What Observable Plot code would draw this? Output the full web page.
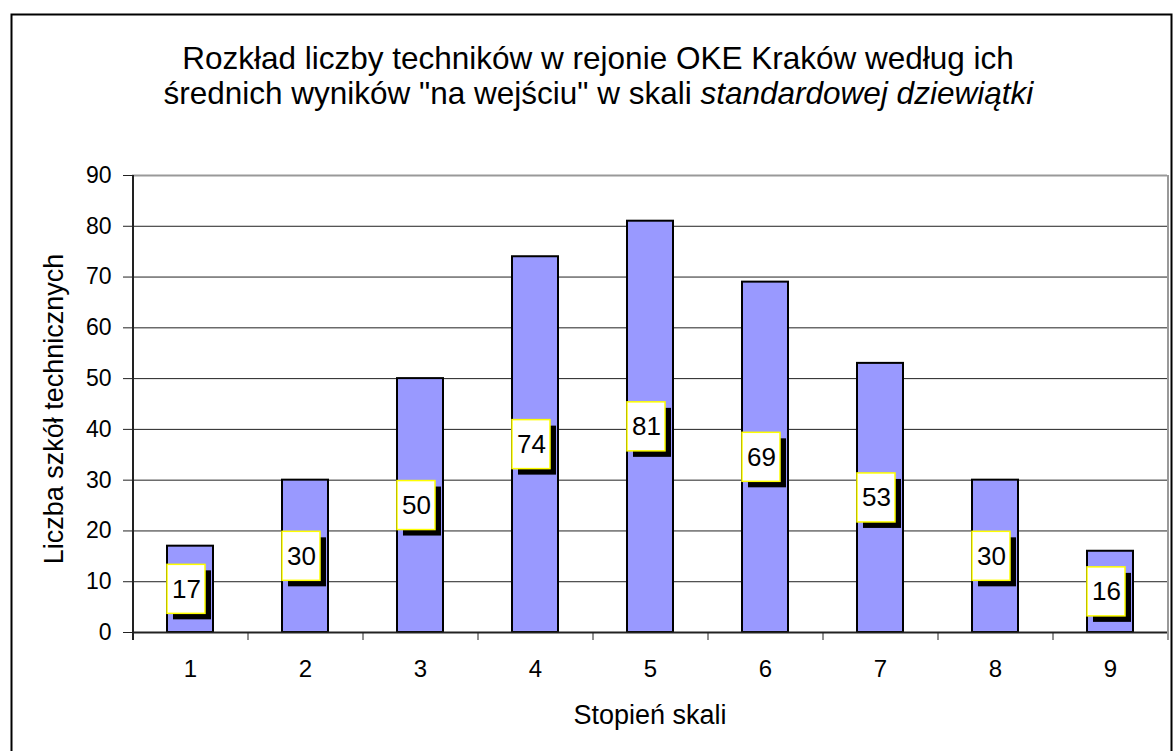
<!DOCTYPE html>
<html>
<head>
<meta charset="utf-8">
<script src="https://cdn.jsdelivr.net/npm/d3@7"></script>
<script src="https://cdn.jsdelivr.net/npm/@observablehq/plot@0.6"></script>
<style>
  html, body { margin: 0; padding: 0; background: #fff; }
  svg { display: block; }
</style>
</head>
<body>
<div id="chart"></div>
<script>
// ---- data ----
const categories = ["1", "2", "3", "4", "5", "6", "7", "8", "9"];
const values = [17, 30, 50, 74, 81, 69, 53, 30, 16];
const yTicks = [0, 10, 20, 30, 40, 50, 60, 70, 80, 90];
const titleLine1 = "Rozkład liczby techników w rejonie OKE Kraków według ich";
const titleLine2Normal = "średnich wyników \"na wejściu\" w skali";
const titleLine2Italic = "standardowej dziewiątki";
const xLabel = "Stopień skali";
const yLabel = "Liczba szkół technicznych";

const data = categories.map((c, i) => ({cat: c, value: values[i]}));

const W = 1174, H = 751;
const mL = 132, mR = 7, mT = 175, mB = 119;
const plotW = W - mL - mR;
const plotH = H - mT - mB;
const step = plotW / categories.length;
const font = '"Liberation Sans", Arial, Helvetica, sans-serif';

const chart = Plot.plot({
  width: W,
  height: H,
  marginLeft: mL,
  marginRight: mR,
  marginTop: mT,
  marginBottom: mB,
  style: {fontFamily: font, fontSize: "23px", background: "#fff", color: "#000", overflow: "visible"},
  x: {domain: categories, paddingInner: 0.6, paddingOuter: 0.3, axis: null},
  y: {domain: [0, 90], axis: null},
  marks: [
    // gridlines
    Plot.ruleY(yTicks.filter(t => t > 0 && t < 90), {stroke: "#222", strokeWidth: 1}),
    Plot.ruleY([yTicks[yTicks.length - 1]], {stroke: "#999", strokeWidth: 2}),
    // right border of plot area
    Plot.ruleX([categories[categories.length - 1]], {dx: step / 2, stroke: "#999", strokeWidth: 2, insetBottom: -8}),
    // category boundary ticks below the axis
    Plot.ruleX(categories.slice(0, -1), {dx: step / 2, insetTop: plotH, insetBottom: -8, stroke: "#222", strokeWidth: 1}),
    // y tick marks and labels
    Plot.ruleY(yTicks, {y: d => d, insetLeft: -9, insetRight: plotW, stroke: "#222", strokeWidth: 1}),
    Plot.text(yTicks, {y: d => d, text: d => String(d), frameAnchor: "left", textAnchor: "end", dx: -21, fontSize: 23, fill: "#000"}),
    // x tick labels
    Plot.text(categories, {x: d => d, text: d => d, frameAnchor: "bottom", lineAnchor: "top", dy: 27, fontSize: 24, fill: "#000"}),
    // bars
    Plot.barY(data, {x: "cat", y: "value", fill: "#9999ff", stroke: "#000", strokeWidth: 2}),
    // axis lines
    Plot.ruleY([0], {stroke: "#222", strokeWidth: 2}),
    Plot.ruleX([categories[0]], {dx: -step / 2, stroke: "#222", strokeWidth: 2, insetBottom: -8}),
    // label shadow
    Plot.barY(data, {x: "cat", y1: d => d.value / 2, y2: d => d.value / 2,
      insetTop: -24.5, insetBottom: -24.5, insetRight: 8, dx: 6, dy: 6, fill: "#000"}),
    // label box
    Plot.barY(data, {x: "cat", y1: d => d.value / 2, y2: d => d.value / 2,
      insetTop: -24.5, insetBottom: -24.5, insetRight: 8, fill: "#fff", stroke: "#ffff00", strokeWidth: 1.5}),
    // label text
    Plot.text(data, {x: "cat", y: d => d.value / 2, text: d => String(d.value), dx: -4, fontSize: 26, fill: "#000"}),
    // title
    Plot.text([titleLine1], {frameAnchor: "top", text: d => d, dx: -52, dy: 68 - mT, lineAnchor: "bottom", fontSize: 31.5, fill: "#000"}),
    Plot.text([titleLine2Normal], {frameAnchor: "top-left", text: d => d, dx: 163 - mL, dy: 103 - mT, lineAnchor: "bottom", textAnchor: "start", fontSize: 31.5, fill: "#000"}),
    Plot.text([titleLine2Italic], {frameAnchor: "top-left", text: d => d, dx: 700 - mL, dy: 103 - mT, lineAnchor: "bottom", textAnchor: "start", fontSize: 31.5, fontStyle: "italic", fill: "#000"}),
    // axis labels
    Plot.text([xLabel], {frameAnchor: "bottom", text: d => d, dy: 723 - (H - mB), lineAnchor: "bottom", fontSize: 27, fill: "#000"}),
    Plot.text([yLabel], {frameAnchor: "left", text: d => d, rotate: -90, dx: 62 - mL, dy: 5, textAnchor: "middle", lineAnchor: "bottom", fontSize: 27, fill: "#000"}),
    // outer border
    Plot.frame({stroke: "#000", strokeWidth: 2, insetLeft: -(mL - 11), insetTop: -(mT - 14), insetRight: -4, insetBottom: -130})
  ]
});

document.getElementById("chart").appendChild(chart);
</script>
</body>
</html>
